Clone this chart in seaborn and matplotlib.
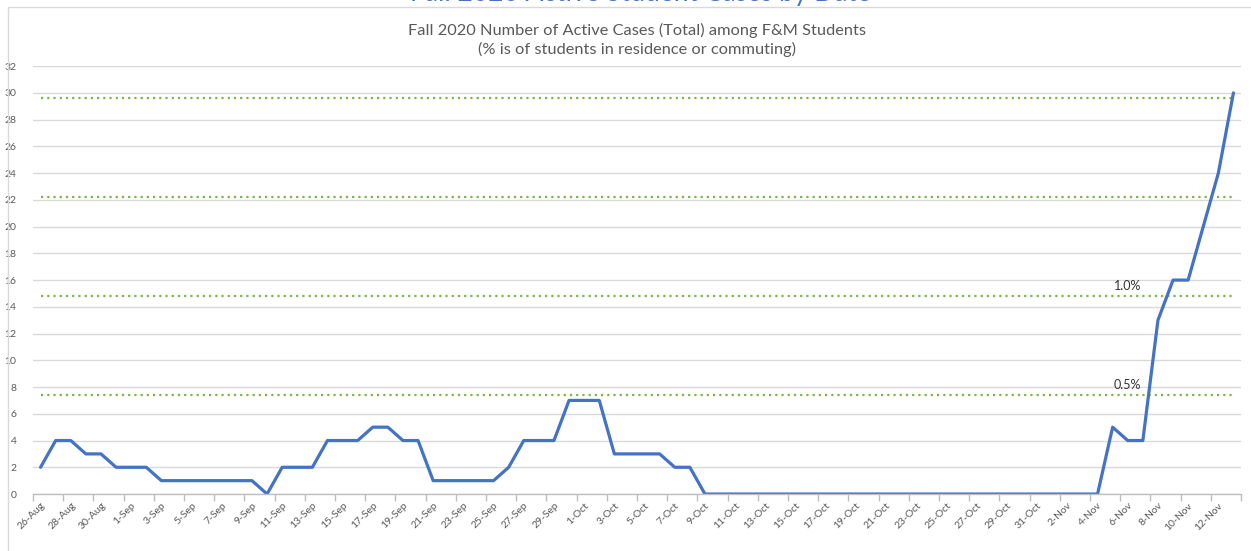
import pandas as pd
import seaborn as sns
from matplotlib import pyplot as plt
from matplotlib.patches import Rectangle
from matplotlib.ticker import MultipleLocator

# daily active cases, 26-Aug .. 13-Nov 2020
dates = pd.date_range("2020-08-26", "2020-11-13", freq="D")
aug_cases = [2, 4, 4, 3, 3, 2]
sep_cases = [2, 2, 1, 1, 1, 1, 1, 1, 1, 0,
             2, 2, 2, 4, 4, 4, 5, 5, 4, 4,
             1, 1, 1, 1, 1, 2, 4, 4, 4, 7]
oct_cases = [7, 7, 3, 3, 3, 3, 2, 2] + [0] * 23
nov_cases = [0, 0, 0, 0, 5, 4, 4, 13, 16, 16, 20, 24, 30]
cases = aug_cases + sep_cases + oct_cases + nov_cases

# % of students thresholds (dotted green lines)
threshold_labels = ["0.5%", "1.0%", "1.5%", "2.0%"]
threshold_values = [7.4, 14.8, 22.2, 29.6]
shown_labels = ["0.5%", "1.0%"]

df = pd.DataFrame({
    "day": range(len(dates)),
    "cases": cases,
    "label": [f"{d.day}-{d.strftime('%b')}" for d in dates],
})

sns.set_theme(style="white")
plt.rcParams["font.family"] = ["Lato", "DejaVu Sans"]

fig, ax = plt.subplots(figsize=(12.51, 5.51), dpi=100)
fig.subplots_adjust(left=0.0264, right=0.992, bottom=0.1034, top=0.880)

sns.lineplot(data=df, x="day", y="cases", ax=ax, color="#4472C4", linewidth=2.3)

last = df["day"].iloc[-1]
for lab, val in zip(threshold_labels, threshold_values):
    ax.hlines(val, 0, last, colors="#7AB648", linewidth=1.6,
              linestyles=(0, (1, 1.8)), zorder=1)
    if lab in shown_labels:
        ax.text(72, val + 0.75, lab, ha="center", va="center",
                fontsize=9, color="#333333")

ax.set_xlim(-0.5, last + 0.5)
ax.set_ylim(0, 32)
ax.yaxis.set_major_locator(MultipleLocator(2))
ax.yaxis.grid(True, color="#d9d9d9", linewidth=1)
ax.set_axisbelow(True)

ax.set_xticks(df["day"][::2])
ax.set_xticklabels(df["label"][::2], rotation=45, ha="right",
                   rotation_mode="anchor")
ax.set_xticks([d - 0.5 for d in df["day"][::2]] + [last + 0.5], minor=True)
ax.tick_params(axis="x", which="major", length=0, pad=5, labelsize=7.5,
               labelcolor="#595959")
ax.tick_params(axis="x", which="minor", bottom=True, length=5,
               color="#bfbfbf", width=1)
ax.tick_params(axis="y", length=0, pad=12, labelsize=7.5, labelcolor="#595959")
for lbl in ax.get_yticklabels():
    lbl.set_horizontalalignment("right")

for side in ["top", "right", "left"]:
    ax.spines[side].set_visible(False)
ax.spines["bottom"].set_color("#bfbfbf")
ax.spines["bottom"].set_linewidth(1)

ax.set_xlabel("")
ax.set_ylabel("")
ax.set_title("Fall 2020 Number of Active Cases (Total) among F&M Students\n"
             "(% is of students in residence or commuting)",
             fontsize=11.8, color="#595959", pad=9, linespacing=1.3)

# chart frame and the cut-off main heading above it
fig.add_artist(Rectangle((8 / 1251, -0.5), 1.2, 1.5 - 7 / 551,
                         transform=fig.transFigure, fill=False,
                         edgecolor="#d9d9d9", linewidth=1))
fig.text(640 / 1251, 1 - 1.5 / 551, "Fall 2020 Active Student Cases by Date",
         ha="center", va="baseline", fontsize=19, color="#4472C4")

fig.savefig("out.png", dpi=100)
